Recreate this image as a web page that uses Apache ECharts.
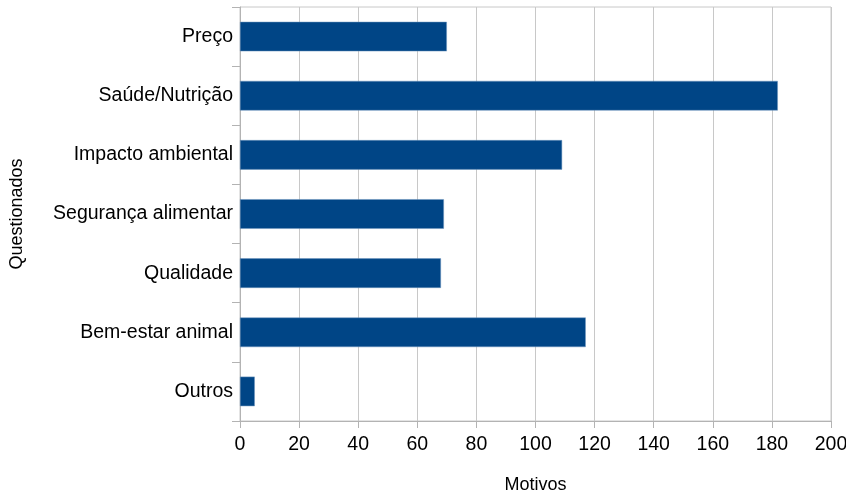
<!DOCTYPE html>
<html>
<head>
<meta charset="utf-8">
<script src="https://cdn.jsdelivr.net/npm/echarts@6/dist/echarts.min.js"></script>
<style>
  html, body { margin: 0; padding: 0; background: #ffffff; }
  #chart { width: 846px; height: 495px; }
</style>
</head>
<body>
<div id="chart"></div>
<script>
// Reasons given by respondents
const categories = ['Preço', 'Saúde/Nutrição', 'Impacto ambiental', 'Segurança alimentar', 'Qualidade', 'Bem-estar animal', 'Outros'];
const counts = [70, 182, 109, 69, 68, 117, 5];
const xTicks = { min: 0, max: 200, interval: 20 };

const font = '"Liberation Sans", Arial, sans-serif';
const chart = echarts.init(document.getElementById('chart'), null, { renderer: 'canvas' });

chart.setOption({
  animation: false,
  backgroundColor: '#ffffff',
  grid: {
    left: 240, right: 15, top: 7, bottom: 74,
    outerBoundsMode: 'none',
    containLabel: false,
    show: true, borderColor: '#c8c8c8', borderWidth: 1
  },
  xAxis: {
    type: 'value',
    min: xTicks.min, max: xTicks.max, interval: xTicks.interval,
    name: 'Motivos',
    nameLocation: 'middle',
    nameGap: 55,
    nameTextStyle: { fontFamily: font, fontSize: 18, color: '#000' },
    axisLine: { show: true, lineStyle: { color: '#b3b3b3', width: 1 } },
    axisTick: { show: true, length: 7, lineStyle: { color: '#b3b3b3' } },
    axisLabel: { fontFamily: font, fontSize: 19.5, color: '#000', margin: 14 },
    splitLine: { show: true, lineStyle: { color: '#c8c8c8', width: 1 } }
  },
  yAxis: {
    type: 'category',
    data: categories,
    inverse: true,
    name: 'Questionados',
    nameLocation: 'middle',
    nameGap: 214,
    nameRotate: 90,
    nameTextStyle: { fontFamily: font, fontSize: 18, color: '#000' },
    axisLine: { show: true, lineStyle: { color: '#b3b3b3', width: 1 } },
    axisTick: { show: true, length: 8, alignWithLabel: false, lineStyle: { color: '#b3b3b3' } },
    axisLabel: { fontFamily: font, fontSize: 19.5, color: '#000', margin: 7 },
    splitLine: { show: false }
  },
  series: [{
    type: 'bar',
    data: counts,
    barCategoryGap: '50%',
    itemStyle: { color: '#004586', borderColor: '#6f97bf', borderWidth: 0.5 }
  }]
});
</script>
</body>
</html>
